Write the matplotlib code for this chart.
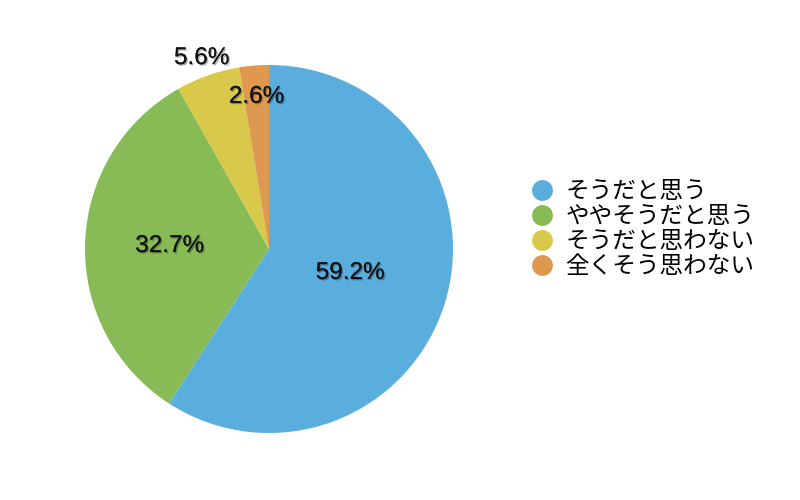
"""Pie chart of survey answers (Japanese labels)."""

import matplotlib

matplotlib.use("Agg")
import matplotlib.patheffects as pe
import matplotlib.pyplot as plt
import numpy as np
from matplotlib.lines import Line2D

plt.rcParams["font.family"] = ["Noto Sans CJK JP", "DejaVu Sans"]

labels = ["そうだと思う", "ややそうだと思う", "そうだと思わない", "全くそう思わない"]
values = [59.2, 32.7, 5.6, 2.6]
colors = ["#5aaede", "#88bb55", "#d9c94a", "#de9850"]

# radial position of each percentage label (fraction of radius)
label_dist = [0.46, 0.54, 1.10, 0.83]


def main():
    fig = plt.figure(figsize=(8, 5), dpi=100)
    r_px = 184
    cx, cy = 269, 500 - 249
    ax = fig.add_axes([(cx - r_px) / 800, (cy - r_px) / 500, 2 * r_px / 800, 2 * r_px / 500])

    wedges, _ = ax.pie(
        values,
        colors=colors,
        startangle=90,
        counterclock=False,
        radius=1.0,
        wedgeprops={"linewidth": 0},
    )
    ax.set_xlim(-1, 1)
    ax.set_ylim(-1, 1)
    ax.set_aspect("equal")
    ax.axis("off")

    shadow = [pe.withSimplePatchShadow(offset=(1, -1), shadow_rgbFace="k", alpha=0.3), pe.Normal()]
    for w, v, d in zip(wedges, values, label_dist):
        theta = np.deg2rad((w.theta1 + w.theta2) / 2)
        ax.text(
            d * np.cos(theta),
            d * np.sin(theta),
            f"{v:.1f}%",
            ha="center",
            va="center",
            fontsize=17.5,
            family=["Liberation Sans", "DejaVu Sans"],
            color="#111111",
            path_effects=shadow,
            clip_on=False,
        )

    handles = [
        Line2D([], [], marker="o", linestyle="", markersize=15, markerfacecolor=c, markeredgewidth=0)
        for c in colors
    ]
    fig.legend(
        handles,
        labels,
        loc="center left",
        bbox_to_anchor=(530 / 800, 1 - 229 / 500),
        frameon=False,
        fontsize=17,
        handletextpad=0.5,
        labelspacing=0.08,
        handlelength=1.0,
        borderaxespad=0,
        borderpad=0,
    )

    fig.savefig("out.png", dpi=100)
    plt.close(fig)


if __name__ == "__main__":
    main()
